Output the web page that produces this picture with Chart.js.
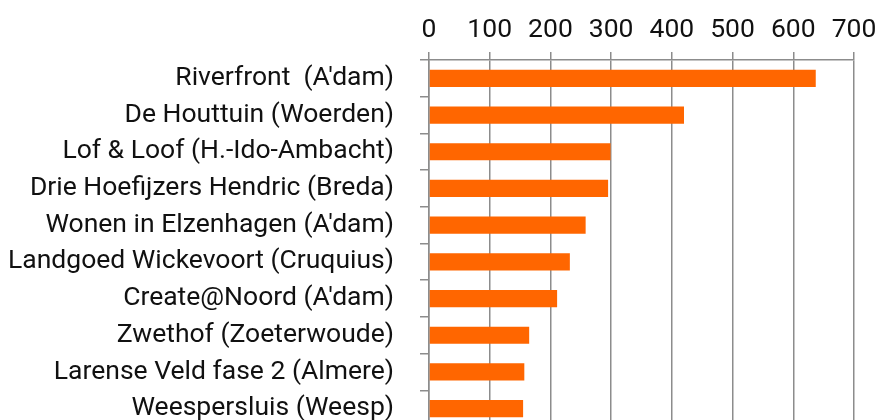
<!DOCTYPE html>
<html>
<head>
<meta charset="utf-8">
<script src="https://cdn.jsdelivr.net/npm/chart.js@4"></script>
<style>
  html, body { margin: 0; padding: 0; background: #fff; overflow: hidden; }
</style>
</head>
<body>
<canvas id="projectChart" width="879" height="427"></canvas>
<script>
const projects = [
  "Riverfront  (A'dam)",
  "De Houttuin (Woerden)",
  "Lof & Loof (H.-Ido-Ambacht)",
  "Drie Hoefijzers Hendric (Breda)",
  "Wonen in Elzenhagen (A'dam)",
  "Landgoed Wickevoort (Cruquius)",
  "Create@Noord (A'dam)",
  "Zwethof (Zoeterwoude)",
  "Larense Veld fase 2 (Almere)",
  "Weespersluis (Weesp)"
];
const counts = [637, 420, 299, 295, 258, 232, 211, 165, 157, 155];
const xTicks = [0, 100, 200, 300, 400, 500, 600, 700];

const gridGray = "#8c8c8c";

const ctx = document.getElementById("projectChart").getContext("2d");
const projectChart = new Chart(ctx, {
  type: "bar",
  data: {
    labels: projects,
    datasets: [{
      data: counts,
      backgroundColor: "#ff6600",
      borderWidth: 0,
      barPercentage: 0.47,
      categoryPercentage: 1
    }]
  },
  options: {
    indexAxis: "y",
    responsive: false,
    animation: false,
    layout: { padding: { left: 0, right: 25, top: 0, bottom: 0 } },
    scales: {
      x: {
        position: "top",
        min: 0,
        max: 700,
        afterBuildTicks: (scale) => {
          scale.ticks = xTicks.map((v) => ({ value: v }));
        },
        afterFit: (scale) => {
          scale.height = 60;
          scale.paddingLeft = 0;
          scale.paddingRight = 0;
        },
        ticks: {
          color: "#111",
          font: { family: "Roboto", size: 26.5 },
          padding: 6
        },
        grid: { color: gridGray, lineWidth: 1.5, tickLength: 8 },
        border: { color: gridGray, width: 1.5 }
      },
      y: {
        afterFit: (scale) => {
          scale.width = 429;
          scale.paddingTop = 0;
          scale.paddingBottom = 0;
        },
        ticks: {
          color: "#111",
          font: { family: "Roboto", size: 26.5 },
          padding: 26
        },
        grid: { drawOnChartArea: false, color: gridGray, lineWidth: 1.5, tickLength: 9 },
        border: { color: gridGray, width: 1.5 }
      }
    },
    plugins: {
      legend: { display: false },
      tooltip: { enabled: false }
    }
  }
});
</script>
</body>
</html>
